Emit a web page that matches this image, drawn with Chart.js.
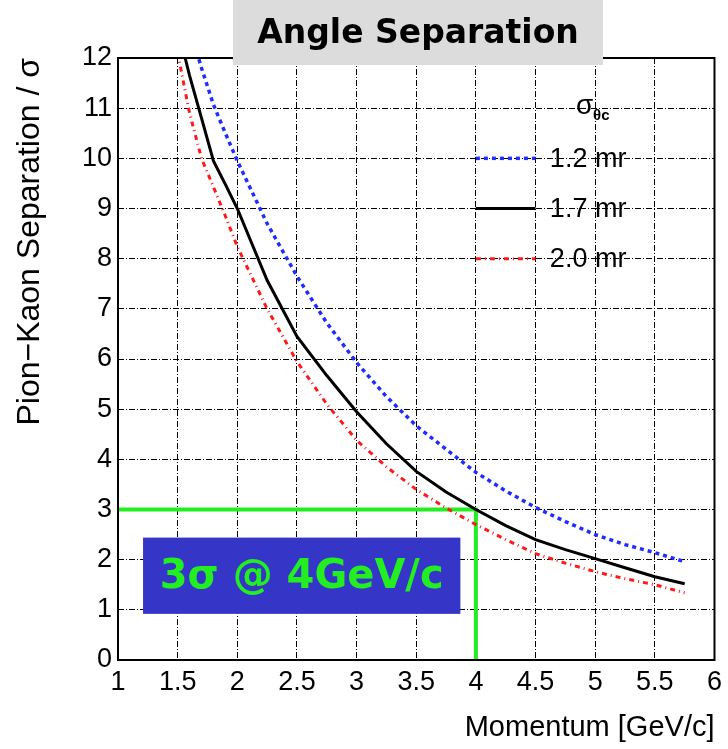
<!DOCTYPE html>
<html>
<head>
<meta charset="utf-8">
<script src="https://cdn.jsdelivr.net/npm/chart.js@4"></script>
<style>
  html, body { margin: 0; padding: 0; background: #fff; }
  canvas { display: block; }
</style>
</head>
<body>
<canvas id="chart" width="728" height="749"></canvas>
<script>
// momentum [GeV/c] and pion-kaon separation [sigma] for each angle resolution
const momentum = [1.5, 1.6, 1.7, 1.8, 1.9, 2.0, 2.25, 2.5, 2.75, 3.0, 3.25, 3.5, 3.75, 4.0, 4.25, 4.5, 4.75, 5.0, 5.25, 5.5, 5.75];
const sep12 = [14.0, 12.6, 11.8, 11.07, 10.5, 9.95, 8.7, 7.65, 6.72, 5.93, 5.25, 4.67, 4.2, 3.74, 3.37, 3.04, 2.76, 2.5, 2.3, 2.14, 1.96];
const sep17 = [12.6, 11.65, 10.8, 9.95, 9.48, 9.0, 7.57, 6.45, 5.67, 4.95, 4.31, 3.76, 3.35, 3.0, 2.68, 2.4, 2.2, 2.02, 1.84, 1.66, 1.52];
const sep20 = [12.1, 10.9, 10.0, 9.43, 8.85, 8.24, 7.0, 5.95, 5.1, 4.38, 3.85, 3.4, 3.03, 2.7, 2.4, 2.12, 1.93, 1.76, 1.62, 1.5, 1.34];
const seriesLabels = ['1.2 mr', '1.7 mr', '2.0 mr'];

// 3 sigma @ 4 GeV/c marker
const markerX = [1, 4, 4];
const markerY = [3, 3, 0];

const toPoints = (xs, ys) => xs.map((x, i) => ({ x: x, y: ys[i] }));

const gridDash = [6, 2, 1, 2];
const tickFont = { family: 'Liberation Sans', size: 27 };

const decorations = {
  id: 'decorations',
  beforeDatasetsDraw(chart) {
    const { ctx, scales: { x, y } } = chart;
    // blue label box
    const x0 = x.getPixelForValue(1.21), x1 = x.getPixelForValue(3.87);
    const y0 = y.getPixelForValue(2.44), y1 = y.getPixelForValue(0.92);
    ctx.save();
    ctx.fillStyle = '#3535c8';
    ctx.fillRect(x0, y0, x1 - x0, y1 - y0);
    ctx.fillStyle = '#22ee22';
    ctx.font = 'bold 40px "DejaVu Sans"';
    ctx.textAlign = 'center';
    ctx.textBaseline = 'middle';
    ctx.fillText('3σ @ 4GeV/c', (x0 + x1) / 2, (y0 + y1) / 2 + 2);
    ctx.restore();
  },
  afterDatasetsDraw(chart) {
    const { ctx, chartArea: a, scales: { x, y } } = chart;
    ctx.save();
    // frame
    ctx.strokeStyle = '#000';
    ctx.lineWidth = 2;
    ctx.setLineDash([]);
    ctx.strokeRect(a.left, a.top, a.right - a.left, a.bottom - a.top);

    // legend
    const lx0 = x.getPixelForValue(4.0), lx1 = x.getPixelForValue(4.5);
    const rows = [10, 9, 8];
    chart.data.datasets.slice(0, 3).forEach((ds, i) => {
      const py = y.getPixelForValue(rows[i]);
      ctx.strokeStyle = ds.borderColor;
      ctx.lineWidth = ds.borderWidth;
      ctx.setLineDash(ds.borderDash || []);
      ctx.beginPath();
      ctx.moveTo(lx0, py);
      ctx.lineTo(lx1, py);
      ctx.stroke();
      ctx.fillStyle = '#000';
      ctx.font = '27px "Liberation Sans"';
      ctx.textAlign = 'left';
      ctx.textBaseline = 'middle';
      ctx.fillText(ds.label, x.getPixelForValue(4.62), py + 1);
    });
    const sx = x.getPixelForValue(4.84), sy = y.getPixelForValue(11);
    ctx.font = '28px "Liberation Sans"';
    ctx.textBaseline = 'middle';
    ctx.fillText('σ', sx, sy - 2);
    ctx.font = 'bold 15px "Liberation Sans"';
    ctx.fillText('θc', sx + 17, sy + 8);

    // title box
    ctx.fillStyle = '#dcdcdc';
    ctx.fillRect(233, 0, 370, 65);
    ctx.fillStyle = '#000';
    ctx.font = 'bold 33px "DejaVu Sans"';
    ctx.textAlign = 'center';
    ctx.fillText('Angle Separation', 418, 34);
    ctx.restore();
  }
};

new Chart(document.getElementById('chart'), {
  type: 'line',
  data: {
    datasets: [
      {
        label: seriesLabels[0],
        data: toPoints(momentum, sep12),
        borderColor: '#1f2dff',
        borderWidth: 3.5,
        borderDash: [4, 4],
        pointRadius: 0,
        tension: 0
      },
      {
        label: seriesLabels[1],
        data: toPoints(momentum, sep17),
        borderColor: '#000000',
        borderWidth: 3,
        pointRadius: 0,
        tension: 0
      },
      {
        label: seriesLabels[2],
        data: toPoints(momentum, sep20),
        borderColor: '#ff1a1a',
        borderWidth: 3,
        borderDash: [5, 4, 1, 4],
        pointRadius: 0,
        tension: 0
      },
      {
        label: 'marker',
        data: toPoints(markerX, markerY),
        borderColor: '#22ee22',
        borderWidth: 4,
        pointRadius: 0,
        tension: 0
      }
    ]
  },
  options: {
    responsive: false,
    animation: false,
    layout: { padding: { top: 58, right: 10, left: 0, bottom: 0 } },
    plugins: { legend: { display: false }, tooltip: { enabled: false } },
    scales: {
      x: {
        type: 'linear',
        min: 1,
        max: 6,
        afterFit: (s) => { s.height = 89; },
        ticks: {
          stepSize: 0.5,
          padding: 6,
          color: '#000',
          font: tickFont,
          maxRotation: 0,
          autoSkip: false,
          callback: (v) => String(v)
        },
        grid: { color: '#000', lineWidth: 1, drawTicks: false },
        border: { display: false, dash: gridDash },
        title: {
          display: true,
          text: 'Momentum [GeV/c]',
          align: 'end',
          color: '#000',
          font: { family: 'Liberation Sans', size: 29 },
          padding: { top: 0, bottom: 4 }
        }
      },
      y: {
        min: 0,
        max: 12,
        afterFit: (s) => { s.width = 118; },
        ticks: {
          stepSize: 1,
          padding: 6,
          color: '#000',
          font: tickFont
        },
        grid: { color: '#000', lineWidth: 1, drawTicks: false },
        border: { display: false, dash: gridDash },
        title: {
          display: true,
          text: 'Pion−Kaon Separation / σ',
          align: 'end',
          color: '#000',
          font: { family: 'Liberation Sans', size: 32 },
          padding: { top: 11, bottom: 0 }
        }
      }
    }
  },
  plugins: [decorations]
});
</script>
</body>
</html>
